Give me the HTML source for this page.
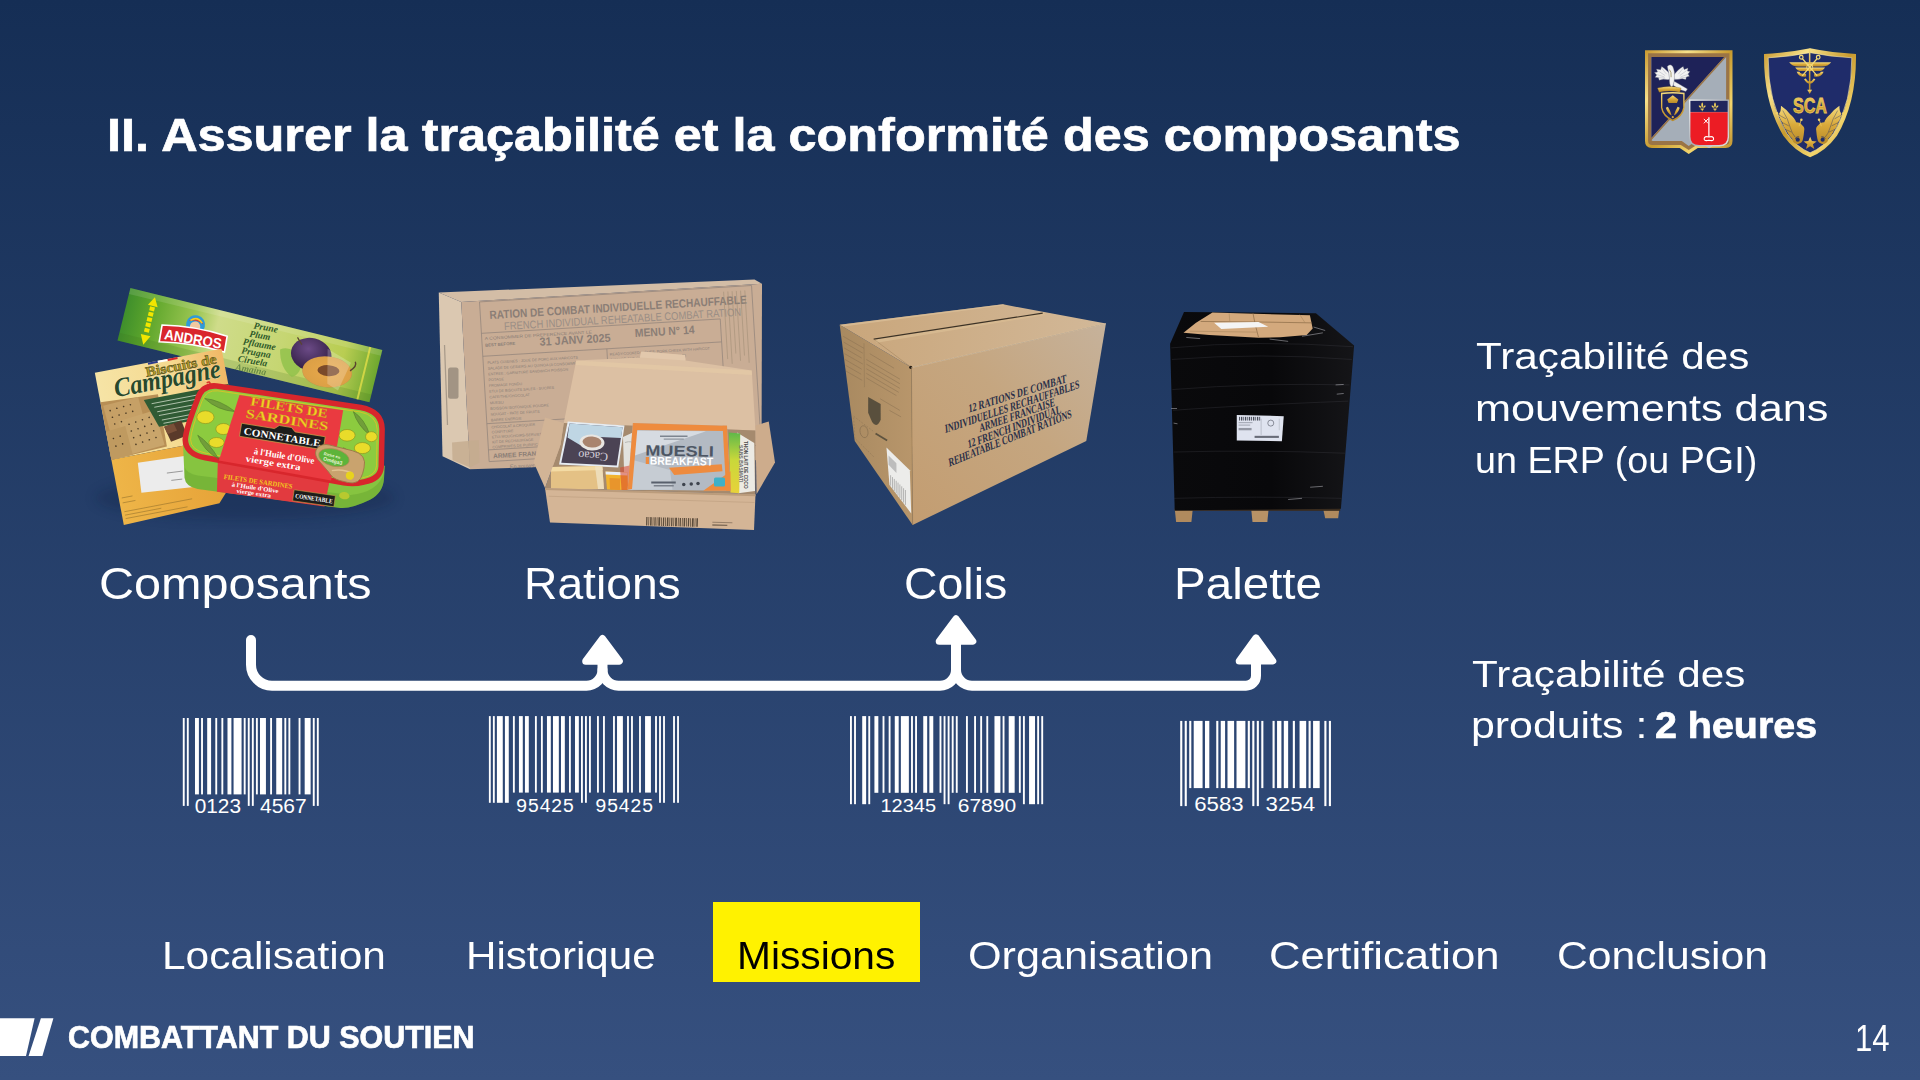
<!DOCTYPE html>
<html lang="fr"><head><meta charset="utf-8"><title>II. Assurer la traçabilité et la conformité des composants</title>
<style>
html,body{margin:0;padding:0;}
body{width:1920px;height:1080px;overflow:hidden;position:relative;
 background:linear-gradient(180deg,#152e55 0%,#36507f 100%);font-family:'Liberation Sans',sans-serif;}
.t{position:absolute;white-space:pre;line-height:1;transform-origin:0 0;font-family:'Liberation Sans',sans-serif;}
#nav-active{position:absolute;left:713px;top:902px;width:207.3px;height:80.2px;background:#fff200;}
svg.ov{position:absolute;left:0;top:0;width:1920px;height:1080px;}
</style></head>
<body>
<div id="nav-active"></div>
<svg class="ov" viewBox="0 0 1920 1080">
<!-- footer slashes -->
<polygon points="0,1018.2 34.6,1018.2 26,1056 0,1056" fill="#fff"/>
<polygon points="40.9,1018.2 53.4,1018.2 42.4,1056 28.6,1056" fill="#fff"/>
<!-- products -->
<defs>
<linearGradient id="gAnd" x1="0" x2="1" y1="0" y2="0">
<stop offset="0" stop-color="#3f8f2c"/><stop offset="0.1" stop-color="#5ea62b"/><stop offset="0.27" stop-color="#9cc653"/>
<stop offset="0.36" stop-color="#cfdc8a"/><stop offset="0.62" stop-color="#c6d673"/><stop offset="0.86" stop-color="#b9cd52"/><stop offset="1" stop-color="#6ea72f"/>
</linearGradient>
<linearGradient id="gBis" x1="0" x2="1" y1="0" y2="0">
<stop offset="0" stop-color="#f6e4a6"/><stop offset="0.6" stop-color="#f5d98f"/><stop offset="1" stop-color="#f0b866"/>
</linearGradient>
<linearGradient id="gBisB" x1="0" x2="1" y1="0" y2="0">
<stop offset="0" stop-color="#eeb548"/><stop offset="1" stop-color="#e59f35"/>
</linearGradient>
<radialGradient id="gPlum" cx="0.4" cy="0.35" r="0.7">
<stop offset="0" stop-color="#6b4a86"/><stop offset="1" stop-color="#2e1c40"/>
</radialGradient>
<radialGradient id="gHalf" cx="0.5" cy="0.5" r="0.6">
<stop offset="0" stop-color="#e8a84a"/><stop offset="0.8" stop-color="#dca046"/><stop offset="1" stop-color="#5c3a63"/>
</radialGradient>
<filter id="soft" x="-20%" y="-20%" width="140%" height="140%"><feGaussianBlur stdDeviation="6"/></filter>
</defs>

<!-- ============ PRODUCT 1 : composants ============ -->
<g id="p1">
<!-- soft shadow -->
<ellipse cx="245" cy="498" rx="150" ry="22" fill="#0e1c3c" opacity="0.25" filter="url(#soft)"/>

<!-- Andros bar : local rect 259.4 x 54 rotated 13.78deg about TL (130.4,288.1) -->
<g transform="translate(130.4 288.1) rotate(13.78)">
<rect x="0" y="0" width="259.4" height="54" fill="url(#gAnd)"/>
<rect x="0" y="0" width="259.4" height="6" fill="#fff" opacity="0.12"/>
<rect x="0" y="46" width="259.4" height="8" fill="#3c6d1d" opacity="0.18"/>
<!-- yellow arrow stripe -->
<g fill="#f3e600">
<polygon points="26,3 31,12 21,12"/>
<rect x="23.5" y="13" width="5" height="4"/><rect x="23.5" y="18.5" width="5" height="4"/><rect x="23.5" y="24" width="5" height="4"/>
<rect x="23.5" y="29.5" width="5" height="4"/><rect x="23.5" y="35" width="5" height="4"/>
<polygon points="26,52 31,42 21,42"/>
</g>
<!-- mascot circle -->
<circle cx="72" cy="20" r="9.5" fill="#2f9bd8"/>
<circle cx="72" cy="22" r="5.2" fill="#f2c9a0"/>
<path d="M64.5,18 Q72,8 79.5,18 Q72,14 64.5,18Z" fill="#e4392b"/>
<path d="M66,17 Q72,11 78,17" stroke="#f3d21b" stroke-width="1.6" fill="none"/>
<!-- ANDROS label -->
<g transform="rotate(-4 73 33)">
<path d="M40,26 Q73,21 106,26 L106,42 Q73,38 40,43 Z" fill="#d9262c" stroke="#fff" stroke-width="1.6"/>
<text x="73" y="39.5" text-anchor="middle" font-family="Liberation Sans" font-weight="700" font-size="14.5" fill="#fff" textLength="58" lengthAdjust="spacingAndGlyphs">ANDROS</text>
</g>
<!-- language lines -->
<g font-family="Liberation Serif" font-style="italic" font-weight="700" font-size="9.5" fill="#2e5a2a" transform="translate(6 -2) rotate(-4 137 25)">
<text x="124" y="11">Prune</text>
<text x="121" y="19.8">Plum</text>
<text x="116" y="28.6">Pflaume</text>
<text x="116" y="37.4">Prugna</text>
<text x="114" y="46.2">Ciruela</text>
<text x="113" y="55" opacity="0.55">Amaina</text>
</g>
<!-- leaf -->
<path d="M160,24 Q170,16 184,30 Q186,44 178,48 Q164,42 160,24Z" fill="#8fc04a" opacity="0.8"/>
<!-- plum -->
<ellipse cx="191.5" cy="21.5" rx="20.5" ry="16.5" fill="url(#gPlum)"/>
<path d="M174,8 L180,14" stroke="#5a4430" stroke-width="1.2"/>
<ellipse cx="211" cy="34.5" rx="25" ry="15.5" fill="url(#gHalf)" transform="rotate(-8 211 34.5)"/>
<ellipse cx="212" cy="33" rx="11" ry="5.5" fill="#7a4a2a" transform="rotate(-10 212 33)"/>
<path d="M233,28 Q239,22 236,18" stroke="#5a4430" stroke-width="1.4" fill="none"/>
<!-- sheen -->
<polygon points="206,12 232,20 226,50 214,46" fill="#fff" opacity="0.22"/>
<rect x="246" y="0" width="2" height="54" fill="#f0e44a" opacity="0.7"/>
</g>

<!-- Biscuits box : local 129 x 155 rotated -10.8 about TL (94.8,372.8) -->
<g transform="translate(94.8 372.8) rotate(-10.8)">
<polygon points="0,0 129,0 129,88 0,88.5" fill="url(#gBis)"/>
<polygon points="0,88.5 129,88 129,118 98,151.5 0,155" fill="url(#gBisB)"/>
<rect x="54" y="0" width="10" height="2" fill="#2b3a8c"/><rect x="64" y="0" width="10" height="2" fill="#fff"/><rect x="74" y="0" width="10" height="2" fill="#d8262c"/>
<!-- cracker -->
<polygon points="0,30 58,33 57,86 0,88.5" fill="#b88f55"/>
<polygon points="2,34 38,32 40,58 4,62" fill="#c6a066"/>
<polygon points="14,52 52,48 55,84 18,87" fill="#c9a56b"/>
<polygon points="0,60 20,58 22,88 0,88.5" fill="#bf9a60"/>
<g fill="#4a3a24">
<circle cx="8" cy="40" r="0.8"/><circle cx="15" cy="39" r="0.8"/><circle cx="22" cy="38.5" r="0.8"/><circle cx="29" cy="38" r="0.8"/>
<circle cx="9" cy="47" r="0.8"/><circle cx="16" cy="46" r="0.8"/><circle cx="23" cy="45.5" r="0.8"/><circle cx="30" cy="45" r="0.8"/>
<circle cx="10" cy="54" r="0.8"/><circle cx="17" cy="53" r="0.8"/><circle cx="24" cy="57" r="0.8"/><circle cx="31" cy="56" r="0.8"/><circle cx="38" cy="55" r="0.8"/><circle cx="45" cy="54" r="0.8"/>
<circle cx="25" cy="64" r="0.8"/><circle cx="32" cy="63" r="0.8"/><circle cx="39" cy="62" r="0.8"/><circle cx="46" cy="61" r="0.8"/>
<circle cx="26" cy="71" r="0.8"/><circle cx="33" cy="70" r="0.8"/><circle cx="40" cy="69" r="0.8"/><circle cx="47" cy="68" r="0.8"/>
<circle cx="27" cy="78" r="0.8"/><circle cx="34" cy="77" r="0.8"/><circle cx="41" cy="76" r="0.8"/><circle cx="48" cy="75" r="0.8"/>
<circle cx="6" cy="68" r="0.8"/><circle cx="13" cy="67" r="0.8"/><circle cx="7" cy="76" r="0.8"/><circle cx="14" cy="75" r="0.8"/>
</g>
<!-- green text panel -->
<polygon points="43,36 129,36 129,66 53,65" fill="#2f5b34"/>
<g stroke="#dfe8d8" stroke-width="0.9" opacity="0.75">
<line x1="50" y1="41" x2="100" y2="41"/><line x1="52" y1="45" x2="96" y2="45"/><line x1="54" y1="50" x2="100" y2="50"/><line x1="55" y1="54" x2="92" y2="54"/><line x1="57" y1="59" x2="98" y2="59"/><line x1="58" y1="62.5" x2="90" y2="62.5"/>
</g>
<!-- chocolate -->
<polygon points="58,66 76,63 79,79 62,82" fill="#5a3a2a"/><polygon points="58,66 68,64.5 70,72 60,74" fill="#7a5038"/>
<!-- title text -->
<text x="50" y="13.5" font-family="Liberation Serif" font-weight="700" font-size="14" fill="#b9a02a" stroke="#4c4a1a" stroke-width="0.5" textLength="72" lengthAdjust="spacingAndGlyphs">Biscuits de</text>
<text x="16" y="28" font-family="Liberation Serif" font-style="italic" font-weight="700" font-size="27" fill="#28492c" stroke="#f4edc8" stroke-width="0.6" paint-order="stroke" textLength="108" lengthAdjust="spacingAndGlyphs">Campagne</text>
<path d="M108,31 q4,-2 3,2 q-1,3 -5,2" stroke="#d8332b" stroke-width="1.5" fill="none"/>
<!-- white label -->
<polygon points="25.4,96.3 81,99 78,130.8 23.3,126.5" fill="#ececec"/>
<g stroke="#8a8a8a" stroke-width="0.8"><line x1="52" y1="112" x2="68" y2="113"/><line x1="55" y1="120" x2="66" y2="120.8"/></g>
<g stroke="#8a6a2a" stroke-width="0.7" opacity="0.7">
<line x1="3" y1="128" x2="14" y2="128"/><line x1="3" y1="133" x2="16" y2="133"/>
<line x1="3" y1="142" x2="72" y2="142"/><line x1="3" y1="145.5" x2="40" y2="145.5"/><line x1="3" y1="149" x2="66" y2="149"/>
</g>
</g>

<!-- Sardine can : coordinates from 7.2x zoom at (170,370) -->
<g transform="translate(170 370) scale(0.138889)">
<!-- skirt -->
<path d="M92,500 L105,775 Q112,838 200,856 L1215,992 Q1300,1004 1440,935 Q1535,885 1541,780 L1546,690 Z" fill="#86c440"/>
<path d="M105,700 L105,775 Q112,838 200,856 L1215,992 Q1300,1004 1440,935 Q1535,885 1541,780 L1541,740 Q1500,880 1300,900 L200,760 Q120,745 105,700Z" fill="#5b9a2a" opacity="0.35"/>
<polygon points="345,640 1150,795 1112,982 338,876" fill="#e23a3f"/>
<!-- skirt text -->
<g transform="rotate(8.2 600 800)">
<text x="385" y="815" font-family="Liberation Serif" font-weight="700" font-size="50" fill="#f2c81e" textLength="500" lengthAdjust="spacingAndGlyphs">FILETS DE SARDINES</text>
<text x="450" y="860" font-family="Liberation Serif" font-weight="700" font-size="44" fill="#fff" textLength="340" lengthAdjust="spacingAndGlyphs">à l'Huile d'Olive</text>
<text x="490" y="900" font-family="Liberation Serif" font-weight="700" font-size="44" fill="#fff" textLength="250" lengthAdjust="spacingAndGlyphs">vierge extra</text>
<rect x="900" y="820" width="300" height="80" fill="#1d1d1b" stroke="#c9a44a" stroke-width="4"/>
<text x="915" y="878" font-family="Liberation Serif" font-weight="700" font-size="48" fill="#fff" textLength="270" lengthAdjust="spacingAndGlyphs">CONNETABLE</text>
</g>
<ellipse cx="1255" cy="905" rx="38" ry="26" fill="#b8c92f" transform="rotate(8 1255 905)"/>
<!-- top face with red rim -->
<path d="M335,115 L1375,270 Q1525,298 1527,425 L1521,695 Q1516,785 1395,806 Q1325,824 1250,811 L255,632 Q112,605 110,500 Q114,425 198,210 Q232,105 335,115 Z" fill="#8ccb3f" stroke="#d8262c" stroke-width="40" stroke-linejoin="round"/>
<path d="M345,150 L1368,302 Q1490,325 1492,430 L1487,690 Q1482,760 1388,776 Q1325,790 1255,778 L262,600 Q150,578 148,500 Q152,430 230,225 Q258,142 345,150 Z" fill="none" stroke="#f0c020" stroke-width="5"/>
<!-- olives & leaves -->
<g stroke="#4f7a2a" stroke-width="5" fill="#6f9a3a" opacity="0.9">
<path d="M250,205 Q360,215 470,300 Q340,290 250,205Z"/><path d="M200,470 Q280,520 350,640 Q240,580 200,470Z"/>
<path d="M1320,300 Q1400,350 1440,470 Q1350,400 1320,300Z"/><path d="M1250,560 Q1330,600 1360,690 Q1280,650 1250,560Z"/>
</g>
<g fill="#e9dc2a" stroke="#8a8a1a" stroke-width="4">
<ellipse cx="255" cy="340" rx="62" ry="46"/><ellipse cx="385" cy="425" rx="55" ry="40"/><ellipse cx="335" cy="522" rx="55" ry="36"/>
<ellipse cx="1275" cy="470" rx="58" ry="42"/><ellipse cx="1385" cy="562" rx="58" ry="40"/><ellipse cx="1450" cy="480" rx="42" ry="36"/>
</g>
<!-- red panel -->
<polygon points="500,180 1247,290 1160,795 352,652" fill="#ea3a40"/>
<g transform="translate(8 34) rotate(9.2 860 300)">
<text x="560" y="268" font-family="Liberation Serif" font-weight="700" font-size="92" fill="#f4cf24" stroke="#b9871a" stroke-width="2" textLength="560" lengthAdjust="spacingAndGlyphs">FILETS DE</text>
<text x="540" y="360" font-family="Liberation Serif" font-weight="700" font-size="92" fill="#f4cf24" stroke="#b9871a" stroke-width="2" textLength="600" lengthAdjust="spacingAndGlyphs">SARDINES</text>
<polygon points="520,405 760,405 790,378 880,378 910,405 1130,405 1130,500 520,500" fill="#1d1d1b" stroke="#c9a44a" stroke-width="5"/>
<text x="545" y="482" font-family="Liberation Serif" font-weight="700" font-size="74" fill="#fff" textLength="560" lengthAdjust="spacingAndGlyphs">CONNETABLE</text>
<text x="640" y="610" font-family="Liberation Serif" font-weight="700" font-size="66" fill="#fff" textLength="440" lengthAdjust="spacingAndGlyphs">à l'Huile d'Olive</text>
<text x="590" y="672" font-family="Liberation Serif" font-weight="700" font-size="66" fill="#fff" textLength="400" lengthAdjust="spacingAndGlyphs">vierge extra</text>
</g>
<!-- ring pull -->
<g transform="rotate(14 1215 670)">
<path d="M1120,560 H1290 Q1400,560 1400,660 V700 Q1400,790 1310,790 H1250 Q1200,790 1160,750 L1060,680 Q1020,640 1040,600 Q1065,560 1120,560Z" fill="#c9a36e" stroke="#9c7847" stroke-width="6"/>
<ellipse cx="1172" cy="640" rx="112" ry="62" fill="#5db43a" stroke="#b08a55" stroke-width="5"/>
<text x="1095" y="640" font-family="Liberation Sans" font-weight="700" font-size="30" fill="#eaf5d8" textLength="120" lengthAdjust="spacingAndGlyphs">Riche en</text>
<text x="1100" y="678" font-family="Liberation Sans" font-weight="700" font-size="38" fill="#eaf5d8" textLength="140" lengthAdjust="spacingAndGlyphs">Oméga3</text>
<path d="M1180,735 Q1260,700 1330,720" stroke="#e2c391" stroke-width="10" fill="none"/>
<circle cx="1315" cy="738" r="30" fill="#e8d21e"/>
</g>
</g>
</g>

<!-- ============ PRODUCT 2 : rations (coords from 4x zoom at 420,270) ============ -->
<g id="p2" transform="translate(420 270) scale(0.25)">

<!-- back box -->
<polygon points="75,90 165,128 200,797 90,745" fill="#dbc8b1"/>
<polygon points="75,90 1338,38 1368,55 165,128" fill="#d3bda6"/>
<polygon points="165,128 1368,55 1366,760 200,797" fill="#c9ad95"/>
<!-- tape -->
<polygon points="128,690 235,680 238,770 200,790 130,760" fill="#c4ab8e" opacity="0.8"/>
<!-- printed frame & text -->
<g transform="rotate(-3.45 165 128)" stroke="#93857b" fill="none" stroke-width="3">
<rect x="238" y="132" width="1090" height="640"/>
<line x1="238" y1="258" x2="1195" y2="258"/><line x1="238" y1="350" x2="1195" y2="350"/>
<line x1="1195" y1="258" x2="1195" y2="772"/><line x1="735" y1="350" x2="735" y2="620"/>
<line x1="238" y1="620" x2="735" y2="620"/><line x1="238" y1="725" x2="700" y2="725"/>
<g stroke="none" fill="#8b7e76" font-family="Liberation Sans">
<text x="275" y="203" font-weight="700" font-size="47" textLength="1030" lengthAdjust="spacingAndGlyphs">RATION DE COMBAT INDIVIDUELLE RECHAUFFABLE</text>
<text x="330" y="250" font-size="44" fill="#9a8d85" textLength="950" lengthAdjust="spacingAndGlyphs">FRENCH INDIVIDUAL REHEATABLE COMBAT RATION</text>
<text x="250" y="285" font-size="17" textLength="430" lengthAdjust="spacingAndGlyphs">A CONSOMMER DE PREFERENCE AVANT LE</text>
<text x="250" y="312" font-size="17" font-weight="700">BEST BEFORE</text>
<text x="468" y="322" font-weight="700" font-size="46" textLength="285" lengthAdjust="spacingAndGlyphs">31 JANV 2025</text>
<text x="850" y="310" font-weight="700" font-size="46" textLength="240" lengthAdjust="spacingAndGlyphs">MENU N° 14</text>
<g font-size="15">
<text x="255" y="382">PLATS CUISINES : JOUE DE PORC AUX HARICOTS</text>
<text x="255" y="405">SALADE DE GESIERS AU QUINOA (A CONSOMMER FROID)</text>
<text x="255" y="428">ENTREE : GARNITURE SANDWICH POISSON</text>
<text x="255" y="451">POTAGE</text>
<text x="255" y="474">FROMAGE FONDU</text>
<text x="255" y="497">ETUI DE BISCUITS SALES - SUCRES</text>
<text x="255" y="520">CAFE/THE/CHOCOLAT</text>
<text x="255" y="543">MUESLI</text>
<text x="255" y="566">BOISSON ISOTONIQUE POUDRE</text>
<text x="255" y="589">NOUGAT - PATE DE FRUITS</text>
<text x="255" y="612">BARRE ENERGIE</text>
<text x="255" y="640">CHOCOLAT A CROQUER</text>
<text x="255" y="660">CONFITURE</text>
<text x="255" y="680">ETUI MOUCHOIRS-SERVIETTES</text>
<text x="255" y="700">KIT DE RECHAUFFAGE</text>
<text x="255" y="720">COMPRIMES DE PURIFICATION</text>
<text x="745" y="378">READY-COOKED DISHES: PORK CHEEK WITH HARICOT</text>
<text x="745" y="400">GIZZARD AND QUINOA SALAD (EAT COLD)</text>
</g>
<text x="255" y="760" font-size="26" font-weight="700">ARMEE FRANCAISE</text>
<text x="320" y="805" font-size="22">En souvenir</text>
</g>
<!-- right narrow column vertical text -->
<g stroke="#9a8972" stroke-width="2">
<line x1="1215" y1="150" x2="1215" y2="420"/><line x1="1232" y1="150" x2="1232" y2="440"/><line x1="1249" y1="150" x2="1249" y2="400"/>
<line x1="1266" y1="150" x2="1266" y2="430"/><line x1="1283" y1="150" x2="1283" y2="410"/><line x1="1300" y1="150" x2="1300" y2="440"/>
</g>
</g>
<!-- side emblem -->
<rect x="112" y="390" width="42" height="125" rx="10" fill="#8f8375" opacity="0.75"/>
<line x1="98" y1="300" x2="110" y2="620" stroke="#a89a8a" stroke-width="5"/>

<!-- open box -->
<!-- lid -->
<polygon points="625,362 880,350 885,326 1060,340 1062,362 1327,402 1342,642 575,612" fill="#dcc0a3"/>
<polygon points="880,350 885,326 1060,340 1062,362" fill="#e2c8ac"/>
<polygon points="625,362 1327,402 1328,420 622,380" fill="#e6cba6" opacity="0.6"/>
<!-- interior -->
<polygon points="575,612 1342,642 1342,897 500,872 562,700" fill="#a58a6e"/>
<!-- cacao sachet -->
<polygon points="591,606 818,622 793,790 556,778" fill="#e6ecf2"/>
<polygon points="598,614 810,629 787,782 565,771" fill="#4b4354"/>
<polygon points="598,614 810,629 804,672 720,668 640,700 590,670" fill="#bfd6e4"/>
<ellipse cx="688" cy="690" rx="50" ry="32" fill="#e9e6e2" transform="rotate(4 688 690)"/>
<ellipse cx="688" cy="688" rx="38" ry="22" fill="#a9846e" transform="rotate(4 688 688)"/>
<text x="620" y="768" font-family="Liberation Serif" font-size="48" fill="#d9d3de" transform="rotate(184 686 748)">Cacao</text>
<!-- white round pot -->
<polygon points="812,668 860,646 868,872 818,866" fill="#e2e2de"/>
<path d="M820,690 Q850,680 858,700" stroke="#b8b8b4" stroke-width="4" fill="none"/>
<!-- cheese -->
<polygon points="524,788 729,784 736,876 524,880" fill="#e4c185"/>
<polygon points="524,788 729,784 731,800 524,806" fill="#f3dba4"/>
<polygon points="700,786 729,784 736,876 712,876" fill="#efe2c4" opacity="0.8"/>
<!-- yellow packs -->
<polygon points="742,806 830,810 832,880 748,878" fill="#f1b32f"/>
<polygon points="742,806 830,810 830,822 743,818" fill="#e8eef6"/>
<polygon points="758,832 800,834 800,880 760,878" fill="#e8952c"/>
<polygon points="800,790 848,780 850,880 806,880" fill="#d8442c" opacity="0.55"/>
<!-- tuna can right -->
<polygon points="1268,650 1337,692 1340,884 1273,893" fill="#eceae3"/>
<defs><linearGradient id="gStrip" x1="0" x2="0" y1="0" y2="1"><stop offset="0" stop-color="#5fb84a"/><stop offset="0.45" stop-color="#c9d83a"/><stop offset="1" stop-color="#e8d23a"/></linearGradient></defs>
<polygon points="1235,650 1281,654 1277,893 1242,890" fill="url(#gStrip)"/>
<text x="0" y="0" font-family="Liberation Sans" font-weight="700" font-size="25" fill="#4b4b4b" transform="translate(1296 684) rotate(90)" textLength="190" lengthAdjust="spacingAndGlyphs">THON LAIT DE COCO</text>
<text x="0" y="0" font-family="Liberation Sans" font-weight="700" font-size="22" fill="#6a6a6a" transform="translate(1276 700) rotate(90)" textLength="150" lengthAdjust="spacingAndGlyphs">SANS BASMATI</text>
<!-- muesli -->
<polygon points="851.6,612 1228,622.5 1242,883 830.5,879.4" fill="#b3bac3"/>
<polygon points="862,642 1144,645 859,742" fill="#d6dbe1"/>
<polygon points="851,760 1000,800 1010,879 832,879" fill="#c6ccd3"/>
<polygon points="851.6,612 1228,622.5 1226.6,644 862,640" fill="#ee8b3e"/>
<polygon points="851.6,612 869,640 848,876 830.5,879.4" fill="#ee8b3e"/>
<polygon points="1210.5,622.5 1228,622.5 1242,883 1224.5,883" fill="#ee8b3e"/>
<polygon points="1133,883 1242,805 1242,883" fill="#ee8b3e"/>
<polygon points="996,791 1207,777 1210,805 1017,820" fill="#ee8b3e"/>
<text x="901" y="742" font-family="Liberation Sans" font-weight="700" font-size="60" fill="#4d5664" textLength="274" lengthAdjust="spacingAndGlyphs" transform="rotate(1 901 742)">MUESLI</text>
<rect x="903" y="748" width="13" height="28" fill="#ee8b3e"/>
<text x="919" y="778" font-family="Liberation Sans" font-weight="700" font-size="45" fill="#fff" textLength="253" lengthAdjust="spacingAndGlyphs" transform="rotate(1 919 778)">BREAKFAST</text>
<rect x="925" y="846" width="98" height="8" fill="#59606c"/><rect x="935" y="860" width="80" height="6" fill="#7a808a"/>
<g fill="#3e444e"><circle cx="1055" cy="858" r="7"/><circle cx="1085" cy="856" r="7"/><circle cx="1112" cy="854" r="7"/></g>
<rect x="1176" y="830" width="44" height="36" rx="6" fill="#3fb0c8"/>
<rect x="960" y="662" width="110" height="6" fill="#7d8590"/><rect x="975" y="674" width="80" height="5" fill="#8e96a0"/>
<!-- flaps & front -->
<polygon points="455,770 500,590 575,612 562,700 500,872" fill="#d2b496"/>
<polygon points="1342,622 1395,606 1420,770 1346,897" fill="#cdac8c"/>
<polygon points="500,872 1342,897 1336,1040 520,1010" fill="#d4b596"/>
<polygon points="500,872 1342,897 1342,905 500,880" fill="#bb9c7c"/>
<line x1="515" y1="905" x2="1338" y2="930" stroke="#c6a788" stroke-width="4"/>
<!-- barcode on front -->
<g fill="#5b4c3c" transform="rotate(1.5 905 990)">
<rect x="905" y="988" width="5" height="34"/><rect x="914" y="988" width="3" height="34"/><rect x="921" y="988" width="6" height="34"/><rect x="931" y="988" width="3" height="34"/>
<rect x="938" y="988" width="5" height="34"/><rect x="947" y="988" width="3" height="34"/><rect x="954" y="988" width="7" height="34"/><rect x="965" y="988" width="3" height="34"/>
<rect x="972" y="988" width="5" height="34"/><rect x="981" y="988" width="3" height="34"/><rect x="988" y="988" width="6" height="34"/><rect x="998" y="988" width="3" height="34"/>
<rect x="1005" y="988" width="5" height="34"/><rect x="1014" y="988" width="3" height="34"/><rect x="1021" y="988" width="7" height="34"/><rect x="1032" y="988" width="3" height="34"/>
<rect x="1039" y="988" width="5" height="34"/><rect x="1048" y="988" width="3" height="34"/><rect x="1055" y="988" width="6" height="34"/><rect x="1065" y="988" width="3" height="34"/>
<rect x="1072" y="988" width="5" height="34"/><rect x="1081" y="988" width="3" height="34"/><rect x="1088" y="988" width="7" height="34"/><rect x="1099" y="988" width="3" height="34"/><rect x="1106" y="988" width="6" height="34"/>
<rect x="1170" y="1000" width="80" height="4" opacity="0.5"/><rect x="1170" y="1010" width="60" height="6" opacity="0.7"/>
</g>
</g>

<!-- ============ PRODUCT 3 : colis (coords from 4.319x zoom at 820,290) ============ -->
<g id="p3" transform="translate(820 290) scale(0.231535)">
<defs>
<linearGradient id="gCf" x1="0" x2="1" y1="1" y2="0"><stop offset="0" stop-color="#c39d71"/><stop offset="0.55" stop-color="#c5a680"/><stop offset="1" stop-color="#c6b29b"/></linearGradient>
<linearGradient id="gCt" x1="0" x2="1" y1="0" y2="0"><stop offset="0" stop-color="#c9a67b"/><stop offset="1" stop-color="#d2b898"/></linearGradient>
<linearGradient id="gCl" x1="0" x2="1" y1="0" y2="0"><stop offset="0" stop-color="#a88960"/><stop offset="1" stop-color="#b8966b"/></linearGradient>
</defs>

<!-- left face -->
<polygon points="85,150 395,335 400,1015 150,652" fill="url(#gCl)"/>
<!-- front face -->
<polygon points="395,335 1235,145 1150,652 400,1015" fill="url(#gCf)"/>
<!-- top face -->
<polygon points="85,150 790,62 1235,145 395,335" fill="url(#gCt)"/>
<polygon points="85,150 790,62 800,66 100,158" fill="#dcc09a" opacity="0.7"/>
<!-- tape seam -->
<polygon points="232,208 962,98 975,108 245,228" fill="#d8bb92" opacity="0.8"/>
<line x1="232" y1="212" x2="962" y2="100" stroke="#3c3226" stroke-width="5"/>
<line x1="232" y1="212" x2="395" y2="335" stroke="#8a6f4c" stroke-width="3" opacity="0.5"/>
<circle cx="392" cy="334" r="7" fill="#2a2118"/>
<!-- edge shading -->
<line x1="395" y1="335" x2="400" y2="1015" stroke="#9c7d55" stroke-width="4" opacity="0.7"/>
<line x1="395" y1="335" x2="1235" y2="145" stroke="#dfc6a2" stroke-width="4" opacity="0.7"/>
<!-- left face small print -->
<g stroke="#8a7152" stroke-width="3" opacity="0.75">
<line x1="100" y1="200" x2="190" y2="252"/><line x1="102" y1="225" x2="185" y2="273"/><line x1="104" y1="250" x2="180" y2="294"/><line x1="106" y1="275" x2="185" y2="320"/><line x1="108" y1="300" x2="180" y2="342"/><line x1="110" y1="325" x2="178" y2="364"/><line x1="112" y1="350" x2="182" y2="390"/>
<line x1="215" y1="275" x2="320" y2="338"/><line x1="200" y1="300" x2="345" y2="385"/><line x1="200" y1="320" x2="345" y2="405"/><line x1="200" y1="340" x2="345" y2="425"/><line x1="200" y1="360" x2="340" y2="442"/><line x1="200" y1="380" x2="330" y2="456"/>
<line x1="260" y1="470" x2="345" y2="520"/><line x1="300" y1="520" x2="350" y2="548"/>
</g>
<line x1="190" y1="230" x2="192" y2="420" stroke="#8a7152" stroke-width="3" opacity="0.6"/>
<!-- emblem -->
<path d="M208,462 L262,492 L262,560 Q245,600 225,570 L208,530 Z" fill="#4a4436" opacity="0.85"/>
<path d="M240,620 L290,650" stroke="#4a4436" stroke-width="8" opacity="0.8"/>
<ellipse cx="190" cy="612" rx="17" ry="26" fill="none" stroke="#8a7152" stroke-width="3" transform="rotate(-12 190 612)"/>
<polyline points="232,720 150,640 145,545 230,610" fill="none" stroke="#8a7152" stroke-width="2.5" stroke-dasharray="8 6" opacity="0.8"/>
<!-- white label -->
<polygon points="287,680 388,778 394,965 300,842" fill="#ececea"/>
<g stroke="#9a9a9a" stroke-width="3">
<line x1="305" y1="800" x2="305" y2="845"/><line x1="313" y1="808" x2="313" y2="858"/><line x1="321" y1="816" x2="321" y2="868"/><line x1="329" y1="824" x2="329" y2="878"/><line x1="337" y1="832" x2="337" y2="888"/><line x1="345" y1="840" x2="345" y2="898"/><line x1="353" y1="848" x2="353" y2="908"/><line x1="361" y1="856" x2="361" y2="918"/><line x1="369" y1="864" x2="369" y2="928"/>
</g>
<polygon points="296,715 330,748 330,790 296,755" fill="#bdbdbd"/>
<!-- front text -->
<g font-family="Liberation Serif" font-weight="700" fill="#2a2f48" font-size="50">
<text transform="translate(642 530) rotate(-17.3) skewX(-14)" textLength="443" lengthAdjust="spacingAndGlyphs">12 RATIONS DE COMBAT</text>
<text transform="translate(541 618) rotate(-18.6) skewX(-14)" textLength="612" lengthAdjust="spacingAndGlyphs">INDIVIDUELLES RECHAUFFABLES</text>
<text transform="translate(690 614) rotate(-19.4) skewX(-14)" textLength="345" lengthAdjust="spacingAndGlyphs">ARMEE FRANCAISE</text>
<text transform="translate(640 684) rotate(-20.9) skewX(-14)" textLength="431" lengthAdjust="spacingAndGlyphs">12 FRENCH INDIVIDUAL</text>
<text transform="translate(558 763) rotate(-21.9) skewX(-14)" textLength="571" lengthAdjust="spacingAndGlyphs">REHEATABLE COMBAT RATIONS</text>
</g>
</g>

<!-- ============ PRODUCT 4 : palette (coords from 4.32x zoom at 1140,290) ============ -->
<g id="p4" transform="translate(1140 290) scale(0.231481)">
<defs>
<linearGradient id="gPal" x1="0" x2="1" y1="0" y2="0"><stop offset="0" stop-color="#0a0a0c"/><stop offset="0.55" stop-color="#08080a"/><stop offset="1" stop-color="#151518"/></linearGradient>
</defs>
<!-- feet -->
<polygon points="150,945 228,945 222,1002 156,1002" fill="#b08a5e"/>
<polygon points="480,942 556,942 550,1002 486,1002" fill="#b89266"/>
<polygon points="790,940 862,940 856,986 800,986" fill="#b08a5e"/>
<rect x="150" y="940" width="715" height="14" fill="#3a2c1e"/>
<!-- body -->
<polygon points="190,95 760,100 925,240 868,945 150,952 130,232" fill="url(#gPal)"/>
<!-- top cardboard -->
<polygon points="313,97.5 734,109 746,166 720,194 606,204 512,206 299,194 188,185 242,142" fill="#d3a97d"/>

<polyline points="488,100 498,150 512,204" fill="none" stroke="#8a6a46" stroke-width="3"/>
<polyline points="690,106 712,140" fill="none" stroke="#a9875e" stroke-width="2.5"/>
<polyline points="262,136 500,138 742,142" fill="none" stroke="#8a6a46" stroke-width="3"/><polyline points="215,178 505,182" fill="none" stroke="#a9875e" stroke-width="2.5"/><line x1="385" y1="100" x2="388" y2="136" stroke="#a9875e" stroke-width="2.5"/>
<polygon points="320,142 512,138 554,159 351,168" fill="#f4f4f4"/>
<!-- wrap glints -->
<g stroke="#4a4a52" stroke-width="3" opacity="0.4" fill="none">
<path d="M135,250 Q500,215 920,245"/><path d="M138,300 Q520,270 915,300"/><path d="M140,430 Q520,400 905,410"/>
<path d="M142,520 Q400,500 900,480"/><path d="M145,700 Q500,690 885,705"/><path d="M148,900 Q500,890 870,900"/>
</g>
<g stroke="#c8c8d0" stroke-width="3.5" opacity="0.6">
<line x1="560" y1="212" x2="640" y2="222"/><line x1="700" y1="200" x2="790" y2="185"/><line x1="845" y1="410" x2="880" y2="408"/><line x1="850" y1="450" x2="880" y2="447"/>
<line x1="735" y1="852" x2="790" y2="848"/><line x1="640" y1="905" x2="700" y2="900"/><line x1="135" y1="512" x2="160" y2="512"/><line x1="145" y1="575" x2="162" y2="578"/>
<line x1="750" y1="160" x2="800" y2="175"/><line x1="200" y1="205" x2="260" y2="210"/>
</g>
<!-- label -->
<polygon points="418,540 621,545 613,653 418,650" fill="#dfe3ef"/>
<g fill="#4a4e5a">
<rect x="428" y="548" width="4" height="16"/><rect x="436" y="548" width="6" height="16"/><rect x="446" y="548" width="3" height="16"/><rect x="453" y="548" width="6" height="16"/><rect x="463" y="548" width="3" height="16"/><rect x="470" y="548" width="6" height="16"/><rect x="480" y="548" width="4" height="16"/><rect x="488" y="548" width="6" height="16"/><rect x="498" y="548" width="3" height="16"/><rect x="505" y="548" width="6" height="16"/><rect x="515" y="548" width="4" height="16"/>
<rect x="426" y="572" width="60" height="3" opacity="0.6"/><rect x="426" y="582" width="50" height="3" opacity="0.6"/><rect x="426" y="596" width="56" height="10" opacity="0.5"/>
<rect x="522" y="556" width="2" height="70" opacity="0.5"/><rect x="600" y="556" width="2" height="50" opacity="0.4"/>
<rect x="495" y="630" width="105" height="9" opacity="0.8"/>
</g>
<circle cx="565" cy="575" r="13" fill="none" stroke="#4a4e5a" stroke-width="2.5"/>
</g>

<!-- logos -->
<g id="logos" transform="translate(1620 30) scale(0.138889)">
<defs>
<linearGradient id="gGold" x1="0" y1="0" x2="1" y2="1">
<stop offset="0" stop-color="#c9982f"/><stop offset="0.25" stop-color="#f7e08a"/><stop offset="0.5" stop-color="#c89a2e"/><stop offset="0.75" stop-color="#f3d56c"/><stop offset="1" stop-color="#b98a28"/>
</linearGradient>
<linearGradient id="gGold2" x1="0" y1="0" x2="0" y2="1">
<stop offset="0" stop-color="#f5dc7e"/><stop offset="0.5" stop-color="#d9a93a"/><stop offset="1" stop-color="#b78a2a"/>
</linearGradient>
<linearGradient id="gSilver" x1="0" y1="0" x2="1" y2="1"><stop offset="0" stop-color="#f2f2f2"/><stop offset="0.5" stop-color="#a9aeb5"/><stop offset="1" stop-color="#e4e4e4"/></linearGradient>
</defs>
<!-- ===== logo 1 ===== -->
<path d="M180,145 H810 V800 Q810,850 760,850 H560 L495,892 L430,850 H230 Q180,850 180,800 Z" fill="url(#gGold)"/>
<path d="M202,168 H788 V795 Q788,828 755,828 H552 L495,864 L438,828 H235 Q202,828 202,795 Z" fill="#9a7446"/>
<path d="M226,195 H764 V790 Q764,800 750,800 H545 L495,835 L445,800 H240 Q226,800 226,790 Z" fill="#a5aeb8"/>
<polygon points="226,195 752,195 226,778" fill="#1e2258"/>
<line x1="764" y1="188" x2="220" y2="792" stroke="#9a7446" stroke-width="11"/>
<!-- eagle -->
<g fill="#f2f2f2" stroke="#55586a" stroke-width="2.5" stroke-linejoin="round">
<path d="M378,335 Q335,285 300,262 L292,286 L262,280 L270,302 L248,306 L264,324 L252,340 L277,344 L282,362 L312,354 Q345,362 378,352 Z"/>
<path d="M378,335 Q420,278 455,262 L462,284 L490,273 L486,296 L504,299 L490,316 L500,333 L478,339 L474,357 L448,351 Q410,361 378,352Z"/>
<path d="M388,368 L486,424 L474,442 L428,428 L382,398Z"/>
<path d="M340,262 Q362,240 380,262 Q398,300 392,345 Q390,395 372,412 Q352,395 356,345 Q350,300 340,262Z"/>
</g>
<path d="M356,285 Q372,300 368,340" stroke="#8a7a3a" stroke-width="5" fill="none"/>
<g stroke="#7d8090" stroke-width="2" fill="none">
<path d="M300,275 L335,318 M275,295 L325,328 M262,320 L320,338 M275,343 L325,346"/>
<path d="M455,275 L420,318 M480,292 L430,328 M492,318 L436,338 M478,340 L430,346"/>
</g>
<path d="M270,418 Q355,395 440,418 L430,448 Q355,430 282,448 Z" fill="url(#gGold2)" stroke="#7a5a1e" stroke-width="2"/>
<!-- small shield -->
<path d="M295,452 Q380,440 465,452 V560 Q455,625 380,657 Q305,625 295,560 Z" fill="url(#gGold2)"/>
<path d="M305,462 Q380,452 455,462 V558 Q446,615 380,645 Q314,615 305,558 Z" fill="#20255c"/>
<path d="M340,500 L380,470 L420,500 L410,525 H350 Z" fill="url(#gGold2)"/>
<path d="M330,560 Q340,600 372,615 Q362,580 345,552 Z M430,560 Q420,600 388,615 Q398,580 415,552 Z" fill="url(#gGold2)"/>
<circle cx="380" cy="628" r="8" fill="#d9a93a"/>
<!-- red shield -->
<path d="M497,500 H785 V770 Q785,838 715,838 H665 L641,850 L617,838 H567 Q497,838 497,770 Z" fill="url(#gSilver)"/>
<path d="M507,592 H775 V768 Q775,828 712,828 H570 Q507,828 507,768 Z" fill="#ec1c24"/>
<rect x="507" y="510" width="268" height="80" fill="#20255c"/>
<g fill="#f0d05a">
<path d="M592,520 q14,18 0,42 q-14,-24 0,-42z M566,545 q16,-6 20,14 q-14,6 -20,-14z M618,545 q-16,-6 -20,14 q14,6 20,-14z M580,566 h24 v7 h-24z M586,573 l6,14 l6,-14z"/>
<path d="M684,520 q14,18 0,42 q-14,-24 0,-42z M658,545 q16,-6 20,14 q-14,6 -20,-14z M710,545 q-16,-6 -20,14 q14,6 20,-14z M672,566 h24 v7 h-24z M678,573 l6,14 l6,-14z"/>
</g>
<g stroke="#fff" fill="none" stroke-width="9">
<line x1="640" y1="628" x2="640" y2="770"/>
<path d="M640,770 q-34,-8 -34,14 q0,18 34,10 q34,8 34,-10 q0,-22 -34,-14z" stroke-width="8"/>
</g>
<g stroke="#fff" stroke-width="7"><line x1="604" y1="640" x2="634" y2="672"/><line x1="634" y1="640" x2="604" y2="672"/></g>

<!-- ===== logo 2 ===== -->
<path d="M1037,172 Q1210,165 1369,132 Q1528,165 1699,172 Q1704,520 1562,762 Q1482,872 1369,917 Q1256,872 1176,762 Q1032,520 1037,172 Z" fill="url(#gGold)"/>
<path d="M1067,200 Q1220,193 1369,163 Q1518,193 1669,200 Q1672,515 1537,745 Q1465,845 1369,884 Q1273,845 1201,745 Q1064,515 1067,200 Z" fill="#1f2c6a"/>
<path d="M1067,200 Q1220,193 1369,163 Q1518,193 1669,200 Q1672,515 1537,745 Q1465,845 1369,884 Q1273,845 1201,745 Q1064,515 1067,200 Z" fill="none" stroke="#f7e7a6" stroke-width="5" opacity="0.9"/>
<!-- wings emblem -->
<g fill="url(#gGold2)">
<path d="M1218,232 H1520 Q1500,262 1452,262 H1286 Q1238,262 1218,232Z"/>
<path d="M1262,270 H1476 Q1462,296 1430,296 H1308 Q1276,296 1262,270Z"/>
<path d="M1272,300 Q1290,345 1340,335 L1340,315 Q1300,320 1292,300Z M1466,300 Q1448,345 1398,335 L1398,315 Q1438,320 1446,300Z"/>
<rect x="1360" y="135" width="11" height="300"/>
<path d="M1348,430 h35 l-17,30z"/>
<path d="M1325,355 Q1366,420 1407,355 L1395,350 Q1366,395 1337,350Z"/>
</g>
<g stroke="#f3d977" stroke-width="9" fill="none">
<line x1="1312" y1="205" x2="1420" y2="330"/><line x1="1420" y1="205" x2="1312" y2="330"/>
<circle cx="1305" cy="196" r="13"/><circle cx="1427" cy="196" r="13"/>
<circle cx="1366" cy="268" r="22" stroke-width="7"/>
</g>
<!-- SCA -->
<text x="1245" y="598" font-family="Liberation Sans" font-weight="700" font-size="158" fill="url(#gGold2)" stroke="#e9c658" stroke-width="6" textLength="245" lengthAdjust="spacingAndGlyphs">SCA</text>
<!-- laurels -->
<g fill="url(#gGold2)">
<path d="M1159,545 Q1200,572 1225,607 Q1262,638 1268,665 Q1300,668 1310,684 Q1332,700 1326,725 Q1324,752 1318,783 Q1314,818 1275,822 Q1238,812 1240,783 Q1214,760 1199,725 Q1178,700 1170,667 Q1149,640 1145,601 Q1160,588 1159,545Z"/>
<path d="M1159,545 Q1200,572 1225,607 Q1262,638 1268,665 Q1300,668 1310,684 Q1332,700 1326,725 Q1324,752 1318,783 Q1314,818 1275,822 Q1238,812 1240,783 Q1214,760 1199,725 Q1178,700 1170,667 Q1149,640 1145,601 Q1160,588 1159,545Z" transform="translate(2739 0) scale(-1 1)"/>
<path d="M1369,768 l13,32 l34,2 l-27,21 l10,33 l-30,-19 l-30,19 l10,-33 l-27,-21 l34,-2z"/>
</g>
<circle cx="1280" cy="790" r="15" fill="#1f2c6a"/><circle cx="1459" cy="790" r="15" fill="#1f2c6a"/>
<path d="M1262,783 Q1268,765 1290,770" stroke="#1f2c6a" stroke-width="6" fill="none"/><path d="M1477,783 Q1471,765 1449,770" stroke="#1f2c6a" stroke-width="6" fill="none"/>
<g stroke="#1f2c6a" stroke-width="4" fill="none" opacity="0.7">
<path d="M1172,580 Q1210,640 1225,700 Q1240,750 1262,772"/><path d="M1567,580 Q1529,640 1514,700 Q1499,750 1477,772"/>
<path d="M1150,615 L1195,640 M1165,665 L1215,690 M1190,715 L1235,735"/><path d="M1589,615 L1544,640 M1574,665 L1524,690 M1549,715 L1504,735"/>
</g>
<g stroke="#e9c658" stroke-width="6" stroke-linecap="round"><line x1="1290" y1="690" x2="1304" y2="650"/><line x1="1449" y1="690" x2="1435" y2="650"/><line x1="1150" y1="625" x2="1132" y2="603"/><line x1="1589" y1="625" x2="1607" y2="603"/></g>
<g fill="#f0d06a"><circle cx="1306" cy="646" r="9"/><circle cx="1433" cy="646" r="9"/><circle cx="1130" cy="600" r="9"/><circle cx="1609" cy="600" r="9"/></g>
</g>

<!-- arrows -->
<g fill="none" stroke="#fff" stroke-width="10" stroke-linecap="round" stroke-linejoin="round">
<path d="M251,640 V664.7 A21,21 0 0 0 272,685.7 H586.5 A16,16 0 0 0 602.5,669.7 V655"/>
<path d="M602.5,669.7 A16,16 0 0 0 618.5,685.7 H940 A16,16 0 0 0 956,669.7 V636"/>
<path d="M956,669.7 A16,16 0 0 0 972,685.7 H1246 A10,10 0 0 0 1256,675.7 V655"/>
</g>
<g fill="#fff" stroke="#fff" stroke-width="7" stroke-linejoin="round">
<polygon points="602.5,638.5 619.3,661.2 585.7,661.2"/>
<polygon points="956,618.8 972.8,641.3 939.2,641.3"/>
<polygon points="1256,637.9 1272.8,661 1239.2,661"/>
</g>
<!-- barcodes -->
<g fill="#fff">
<rect x="182.80" y="718" width="1.88" height="87.90"/>
<rect x="186.86" y="718" width="1.88" height="87.90"/>
<rect x="194.99" y="718" width="3.91" height="76.40"/>
<rect x="201.08" y="718" width="1.88" height="76.40"/>
<rect x="207.18" y="718" width="3.91" height="76.40"/>
<rect x="215.30" y="718" width="1.88" height="76.40"/>
<rect x="221.40" y="718" width="1.88" height="76.40"/>
<rect x="227.49" y="718" width="3.91" height="76.40"/>
<rect x="233.58" y="718" width="7.98" height="76.40"/>
<rect x="243.74" y="718" width="1.88" height="76.40"/>
<rect x="247.80" y="718" width="1.88" height="87.90"/>
<rect x="251.87" y="718" width="1.88" height="87.90"/>
<rect x="255.93" y="718" width="1.88" height="76.40"/>
<rect x="259.99" y="718" width="5.94" height="76.40"/>
<rect x="270.15" y="718" width="1.88" height="76.40"/>
<rect x="276.24" y="718" width="5.94" height="76.40"/>
<rect x="284.37" y="718" width="1.88" height="76.40"/>
<rect x="288.43" y="718" width="1.88" height="76.40"/>
<rect x="298.59" y="718" width="1.88" height="76.40"/>
<rect x="304.68" y="718" width="5.94" height="76.40"/>
<rect x="312.81" y="718" width="1.88" height="87.90"/>
<rect x="316.87" y="718" width="1.88" height="87.90"/>
<rect x="488.90" y="716.1" width="1.85" height="86.70"/>
<rect x="492.90" y="716.1" width="1.85" height="86.70"/>
<rect x="496.91" y="716.1" width="5.86" height="86.70"/>
<rect x="504.92" y="716.1" width="3.85" height="86.70"/>
<rect x="512.93" y="716.1" width="1.85" height="76.50"/>
<rect x="518.93" y="716.1" width="3.85" height="76.50"/>
<rect x="524.94" y="716.1" width="3.85" height="76.50"/>
<rect x="534.95" y="716.1" width="1.85" height="76.50"/>
<rect x="540.95" y="716.1" width="1.85" height="76.50"/>
<rect x="546.96" y="716.1" width="3.85" height="76.50"/>
<rect x="552.97" y="716.1" width="5.86" height="76.50"/>
<rect x="560.98" y="716.1" width="3.85" height="76.50"/>
<rect x="568.98" y="716.1" width="1.85" height="76.50"/>
<rect x="574.99" y="716.1" width="3.85" height="76.50"/>
<rect x="581.00" y="716.1" width="1.85" height="86.70"/>
<rect x="585.00" y="716.1" width="1.85" height="86.70"/>
<rect x="589.01" y="716.1" width="1.85" height="76.50"/>
<rect x="597.01" y="716.1" width="1.85" height="76.50"/>
<rect x="603.02" y="716.1" width="1.85" height="76.50"/>
<rect x="613.03" y="716.1" width="1.85" height="76.50"/>
<rect x="617.03" y="716.1" width="5.86" height="76.50"/>
<rect x="627.05" y="716.1" width="1.85" height="76.50"/>
<rect x="631.05" y="716.1" width="1.85" height="76.50"/>
<rect x="639.06" y="716.1" width="1.85" height="76.50"/>
<rect x="645.06" y="716.1" width="5.86" height="76.50"/>
<rect x="655.07" y="716.1" width="1.85" height="76.50"/>
<rect x="659.08" y="716.1" width="1.85" height="86.70"/>
<rect x="663.08" y="716.1" width="1.85" height="86.70"/>
<rect x="673.09" y="716.1" width="1.85" height="86.70"/>
<rect x="677.10" y="716.1" width="1.85" height="86.70"/>
<rect x="850.00" y="716.1" width="1.88" height="88.10"/>
<rect x="854.07" y="716.1" width="1.88" height="88.10"/>
<rect x="862.21" y="716.1" width="3.92" height="88.10"/>
<rect x="868.31" y="716.1" width="1.88" height="88.10"/>
<rect x="874.42" y="716.1" width="3.92" height="76.70"/>
<rect x="882.56" y="716.1" width="1.88" height="76.70"/>
<rect x="888.66" y="716.1" width="1.88" height="76.70"/>
<rect x="894.76" y="716.1" width="3.92" height="76.70"/>
<rect x="900.87" y="716.1" width="7.99" height="76.70"/>
<rect x="911.04" y="716.1" width="1.88" height="76.70"/>
<rect x="915.11" y="716.1" width="1.88" height="76.70"/>
<rect x="923.25" y="716.1" width="3.92" height="76.70"/>
<rect x="929.35" y="716.1" width="3.92" height="76.70"/>
<rect x="939.53" y="716.1" width="1.88" height="76.70"/>
<rect x="943.60" y="716.1" width="1.88" height="88.10"/>
<rect x="947.67" y="716.1" width="1.88" height="88.10"/>
<rect x="951.74" y="716.1" width="1.88" height="76.70"/>
<rect x="955.81" y="716.1" width="1.88" height="76.70"/>
<rect x="965.98" y="716.1" width="1.88" height="76.70"/>
<rect x="974.12" y="716.1" width="1.88" height="76.70"/>
<rect x="980.22" y="716.1" width="1.88" height="76.70"/>
<rect x="986.33" y="716.1" width="1.88" height="76.70"/>
<rect x="994.47" y="716.1" width="5.95" height="76.70"/>
<rect x="1002.61" y="716.1" width="1.88" height="76.70"/>
<rect x="1008.71" y="716.1" width="5.95" height="76.70"/>
<rect x="1018.88" y="716.1" width="1.88" height="76.70"/>
<rect x="1022.95" y="716.1" width="1.88" height="88.10"/>
<rect x="1029.06" y="716.1" width="5.95" height="88.10"/>
<rect x="1037.20" y="716.1" width="1.88" height="88.10"/>
<rect x="1041.27" y="716.1" width="1.88" height="88.10"/>
<rect x="1180.20" y="720.9" width="2.10" height="85.20"/>
<rect x="1184.70" y="720.9" width="2.10" height="85.20"/>
<rect x="1189.21" y="720.9" width="2.10" height="67.20"/>
<rect x="1193.71" y="720.9" width="8.86" height="67.20"/>
<rect x="1204.97" y="720.9" width="4.35" height="67.20"/>
<rect x="1216.24" y="720.9" width="2.10" height="67.20"/>
<rect x="1220.74" y="720.9" width="4.35" height="67.20"/>
<rect x="1227.50" y="720.9" width="6.61" height="67.20"/>
<rect x="1236.51" y="720.9" width="8.86" height="67.20"/>
<rect x="1247.77" y="720.9" width="2.10" height="67.20"/>
<rect x="1252.27" y="720.9" width="2.10" height="85.20"/>
<rect x="1256.78" y="720.9" width="2.10" height="85.20"/>
<rect x="1261.28" y="720.9" width="2.10" height="67.20"/>
<rect x="1272.54" y="720.9" width="2.10" height="67.20"/>
<rect x="1277.05" y="720.9" width="4.35" height="67.20"/>
<rect x="1283.80" y="720.9" width="4.35" height="67.20"/>
<rect x="1292.81" y="720.9" width="2.10" height="67.20"/>
<rect x="1299.57" y="720.9" width="6.61" height="67.20"/>
<rect x="1308.58" y="720.9" width="2.10" height="67.20"/>
<rect x="1313.08" y="720.9" width="6.61" height="67.20"/>
<rect x="1324.34" y="720.9" width="2.10" height="85.20"/>
<rect x="1328.85" y="720.9" width="2.10" height="85.20"/>
<text x="194.7" y="813.3" font-family="Liberation Sans" font-size="20" font-weight="400" textLength="46.3" lengthAdjust="spacingAndGlyphs">0123</text>
<text x="260" y="813.3" font-family="Liberation Sans" font-size="20" font-weight="400" textLength="46.7" lengthAdjust="spacingAndGlyphs">4567</text>
<text x="515.8" y="812.2" font-family="Liberation Mono" font-size="20" font-weight="400" textLength="58.4" lengthAdjust="spacingAndGlyphs">95425</text>
<text x="595" y="812.2" font-family="Liberation Mono" font-size="20" font-weight="400" textLength="58.3" lengthAdjust="spacingAndGlyphs">95425</text>
<text x="880.5" y="811.9" font-family="Liberation Sans" font-size="19" font-weight="400" textLength="55.6" lengthAdjust="spacingAndGlyphs">12345</text>
<text x="957.8" y="811.9" font-family="Liberation Sans" font-size="19" font-weight="400" textLength="58.3" lengthAdjust="spacingAndGlyphs">67890</text>
<text x="1194.2" y="810.6" font-family="Liberation Sans" font-size="20.5" font-weight="400" textLength="49.4" lengthAdjust="spacingAndGlyphs">6583</text>
<text x="1265.6" y="810.6" font-family="Liberation Sans" font-size="20.5" font-weight="400" textLength="49.4" lengthAdjust="spacingAndGlyphs">3254</text>
</g>
</svg>
<div class="t" style="left:107.15px;top:111.64px;font-size:46.5px;font-weight:700;color:#fff;-webkit-text-stroke:0.7px #fff;transform:scaleX(1.0837)">II. Assurer la traçabilité et la conformité des composants</div>
<div class="t" style="left:99.49px;top:562.15px;font-size:43.89px;font-weight:400;color:#fff;transform:scaleX(1.1070)">Composants</div>
<div class="t" style="left:524.14px;top:562.15px;font-size:43.89px;font-weight:400;color:#fff;transform:scaleX(1.0535)">Rations</div>
<div class="t" style="left:903.88px;top:562.15px;font-size:43.89px;font-weight:400;color:#fff;transform:scaleX(1.0585)">Colis</div>
<div class="t" style="left:1173.75px;top:562.15px;font-size:43.89px;font-weight:400;color:#fff;transform:scaleX(1.0833)">Palette</div>
<div class="t" style="left:1476.15px;top:339.07px;font-size:36.78px;font-weight:400;color:#fff;transform:scaleX(1.1496)">Traçabilité des</div>
<div class="t" style="left:1474.95px;top:391.37px;font-size:36.78px;font-weight:400;color:#fff;transform:scaleX(1.1764)">mouvements dans</div>
<div class="t" style="left:1475.25px;top:442.87px;font-size:36.78px;font-weight:400;color:#fff;transform:scaleX(1.0255)">un ERP (ou PGI)</div>
<div class="t" style="left:1472.25px;top:656.67px;font-size:36.78px;font-weight:400;color:#fff;transform:scaleX(1.1496)">Traçabilité des</div>
<div class="t" style="left:1471.07px;top:708.27px;font-size:36.78px;font-weight:400;color:#fff;transform:scaleX(1.1658)">produits :</div>
<div class="t" style="left:1654.53px;top:708.27px;font-size:36.78px;font-weight:700;color:#fff;-webkit-text-stroke:0.7px #fff;transform:scaleX(1.0718)">2 heures</div>
<div class="t" style="left:161.55px;top:935.83px;font-size:39.19px;font-weight:400;color:#fff;transform:scaleX(1.0822)">Localisation</div>
<div class="t" style="left:465.67px;top:935.83px;font-size:39.19px;font-weight:400;color:#fff;transform:scaleX(1.0750)">Historique</div>
<div class="t" style="left:736.88px;top:935.83px;font-size:39.19px;font-weight:400;color:#000;transform:scaleX(1.0392)">Missions</div>
<div class="t" style="left:968.29px;top:935.83px;font-size:39.19px;font-weight:400;color:#fff;transform:scaleX(1.1032)">Organisation</div>
<div class="t" style="left:1269.17px;top:935.83px;font-size:39.19px;font-weight:400;color:#fff;transform:scaleX(1.1143)">Certification</div>
<div class="t" style="left:1557.32px;top:935.83px;font-size:39.19px;font-weight:400;color:#fff;transform:scaleX(1.0889)">Conclusion</div>
<div class="t" style="left:68.02px;top:1021.76px;font-size:31.0px;font-weight:700;color:#fff;-webkit-text-stroke:0.7px #fff;transform:scaleX(0.9822)">COMBATTANT DU SOUTIEN</div>
<div class="t" style="left:1855.21px;top:1020.93px;font-size:36.0px;font-weight:400;color:#fff;transform:scaleX(0.8639)">14</div>
</body></html>
